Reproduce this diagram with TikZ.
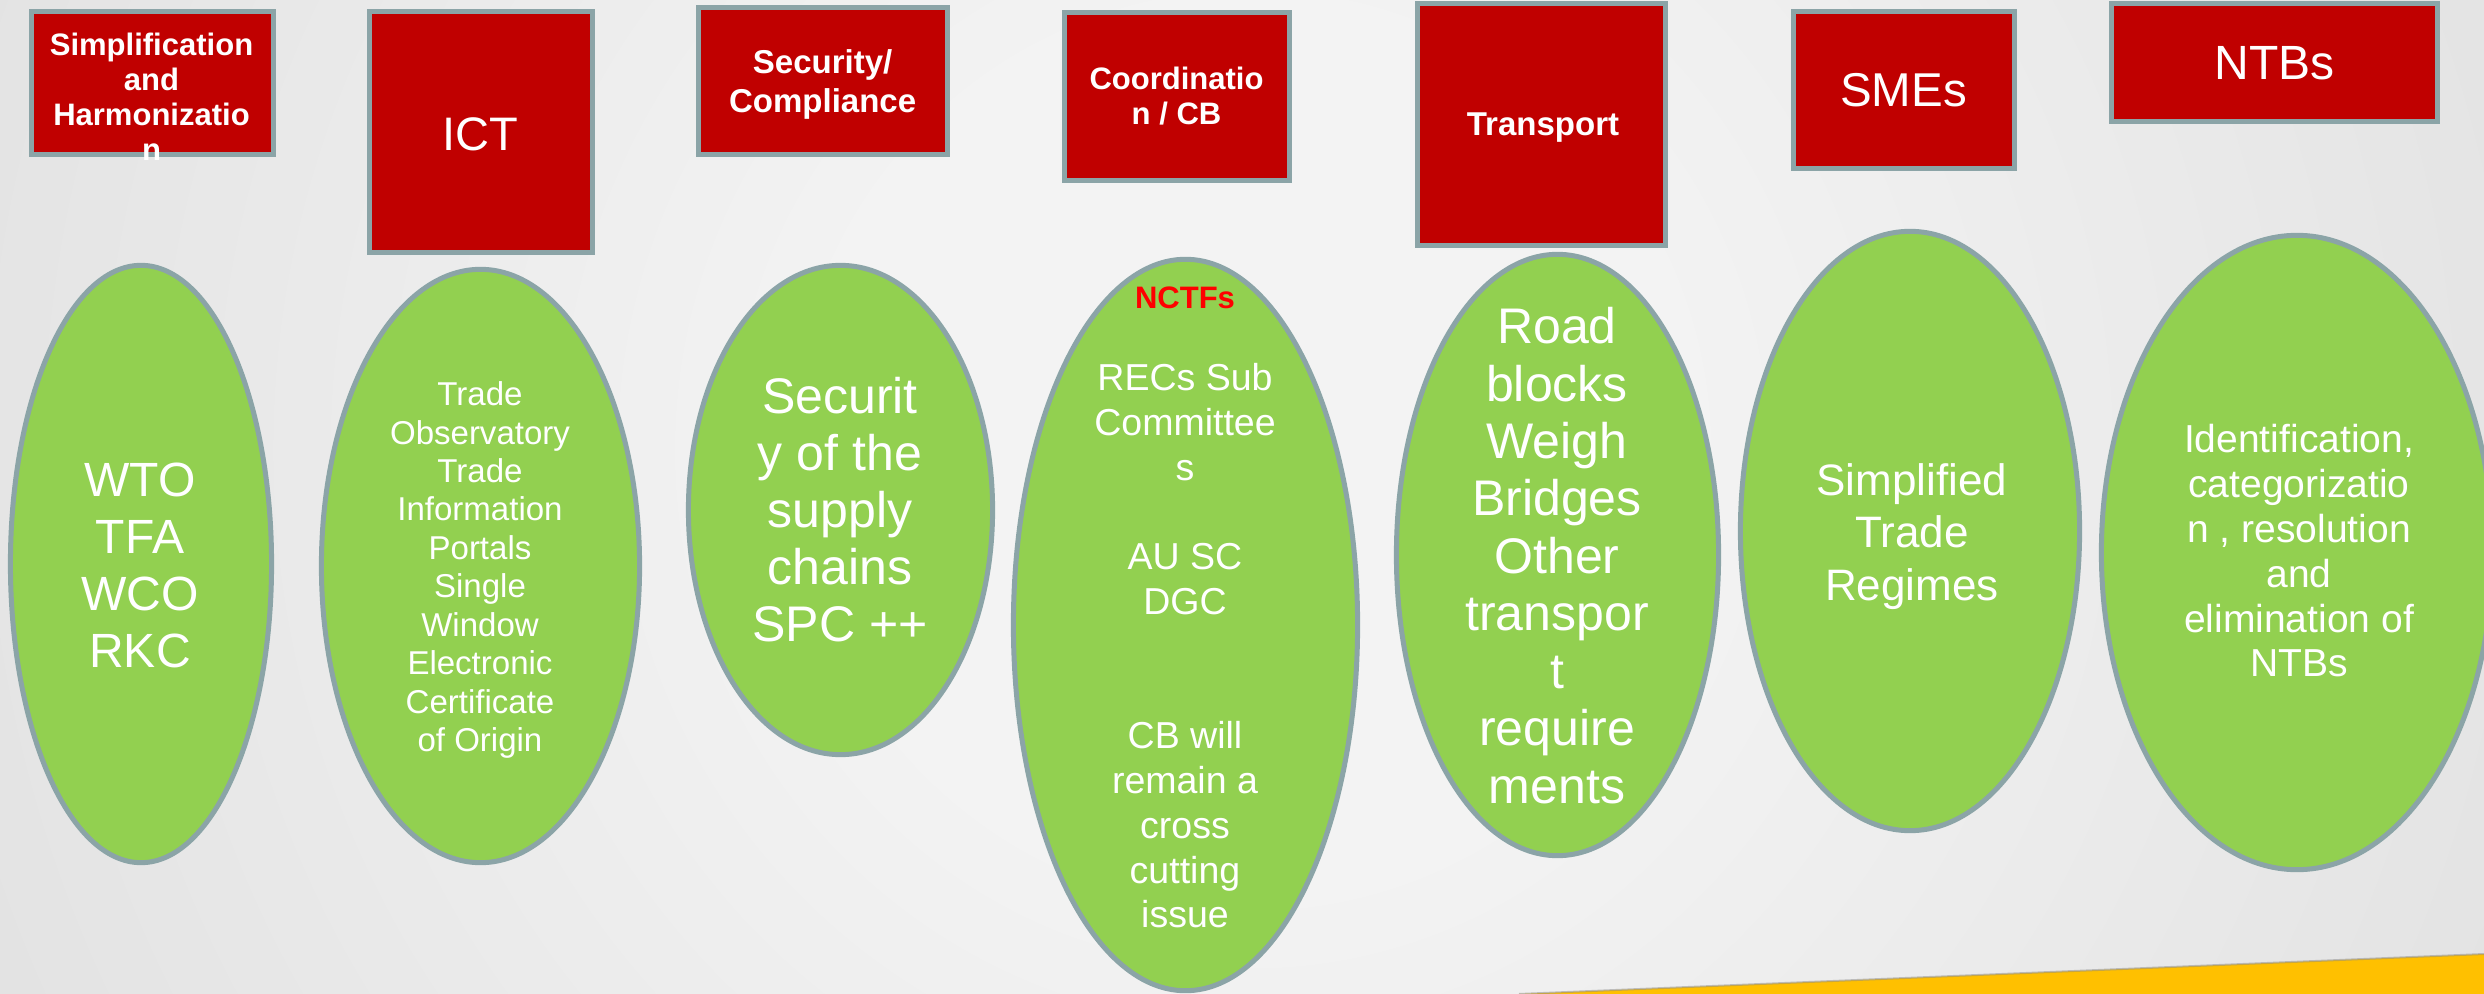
\documentclass[tikz,border=0pt]{standalone}
\usepackage{fontspec}
\setmainfont{Liberation Sans}
\usetikzlibrary{shapes.geometric}
\definecolor{boxred}{HTML}{C00000}
\definecolor{ovalgreen}{HTML}{92D050}
\definecolor{rimgrey}{HTML}{8BA4A7}
\definecolor{stripe}{HTML}{FFC000}
\definecolor{alertred}{HTML}{FF0000}
\definecolor{bgA}{HTML}{F3F3F3}
\definecolor{bgB}{HTML}{E3E3E3}
\definecolor{bgC}{HTML}{CBCBCB}
\pgfdeclareradialshading{slidebg}{\pgfpoint{0bp}{0bp}}{color(0bp)=(bgA); color(8bp)=(bgA); color(25bp)=(bgB); color(50bp)=(bgC)}
\newcommand\fsz[2]{\fontsize{#1}{#2}\selectfont}
\tikzset{
  topic/.style={draw=rimgrey, fill=boxred, line width=0.05cm, inner sep=0pt},
  oval/.style={ellipse, draw=rimgrey, fill=ovalgreen, line width=0.05cm, inner sep=0pt},
  lbl/.style={text=white, align=center, inner sep=0pt}
}
\begin{document}
\begin{tikzpicture}[x=0.01cm, y=-0.01cm]
  \useasboundingbox (0,0) rectangle (2484,994);
  \begin{scope}
    \clip (0,0) rectangle (2484,994);
    \shade[shading=slidebg] (-100,-900) rectangle (2600,1800);
  \end{scope}
  \fill[stripe] (1519,994) -- (2484,954) -- (2484,994) -- cycle;
  \draw[black!45, opacity=0.5, line width=0.02cm] (1519,994) -- (2484,954);

  \node[topic, minimum width=2.42cm, minimum height=1.43cm] (simp) at (152.5,83) {};
  \node[topic, minimum width=2.23cm, minimum height=2.41cm] (ict) at (481,132) {};
  \node[topic, minimum width=2.49cm, minimum height=1.47cm] (sec) at (823,81) {};
  \node[topic, minimum width=2.25cm, minimum height=1.68cm] (coord) at (1177,96.5) {};
  \node[topic, minimum width=2.48cm, minimum height=2.42cm] (trans) at (1541.5,124.5) {};
  \node[topic, minimum width=2.21cm, minimum height=1.57cm] (smes) at (1904,90) {};
  \node[topic, minimum width=3.26cm, minimum height=1.18cm] (ntbs) at (2274.5,62.5) {};

  \node[lbl, font=\bfseries\fsz{8.82}{9.96}] (simptext) at (151.5,96.4) {Simplification\\and\\Harmonizatio\\n};
  \node[lbl, font=\fsz{13.37}{15}] (icttext) at (480.5,134.5) {ICT};
  \node[lbl, font=\bfseries\fsz{9.39}{11.1}] (sectext) at (822.6,84) {Security/\\Compliance};
  \node[lbl, font=\bfseries\fsz{8.82}{9.96}] (coordtext) at (1176.5,95.7) {Coordinatio\\n / CB};
  \node[lbl, font=\bfseries\fsz{9.39}{11.1}] (transtext) at (1543,127.7) {Transport};
  \node[lbl, font=\fsz{13.5}{15}] (smestext) at (1903.6,90.5) {SMEs};
  \node[lbl, font=\fsz{13.66}{15}] (ntbstext) at (2274.5,63.5) {NTBs};

  \node[oval, minimum width=2.61cm, minimum height=5.97cm] (wto) at (141,564) {};
  \node[oval, minimum width=3.18cm, minimum height=5.93cm] (portals) at (480.5,566) {};
  \node[oval, minimum width=3.04cm, minimum height=4.89cm] (supply) at (840.5,510) {};
  \node[oval, minimum width=3.44cm, minimum height=7.31cm] (nctf) at (1185.5,625) {};
  \node[oval, minimum width=3.22cm, minimum height=6.01cm] (road) at (1557.5,555) {};
  \node[oval, minimum width=3.39cm, minimum height=5.99cm] (regimes) at (1910,531) {};
  \node[oval, minimum width=3.91cm, minimum height=6.34cm] (elim) at (2297,552.5) {};

  \node[lbl, font=\fsz{13.66}{16.22}] (wtotext) at (140,565.3) {WTO\\TFA\\WCO\\RKC};
  \node[lbl, font=\fsz{9.39}{10.93}] (portalstext) at (480,570) {Trade\\Observatory\\Trade\\Information\\Portals\\Single\\Window\\Electronic\\Certificate\\of Origin};
  \node[lbl, font=\fsz{14.23}{16.22}] (supplytext) at (840,510) {Securit\\y of the\\supply\\chains\\SPC ++};
  \node[lbl, text=alertred, font=\bfseries\fsz{8.82}{10}] (nctfhead) at (1185,298) {NCTFs};
  \node[lbl, font=\fsz{10.67}{12.73}] (nctftext) at (1185,645.8) {RECs Sub\\Committee\\s\\[12.73pt]AU SC\\DGC\\[25.46pt]CB will\\remain a\\cross\\cutting\\issue};
  \node[lbl, font=\fsz{14.23}{16.33}] (roadtext) at (1557,555.5) {Road\\blocks\\Weigh\\Bridges\\Other\\transpor\\t\\require\\ments};
  \node[lbl, font=\fsz{12.52}{14.8}] (regimestext) at (1912,536.6) {Simplified\\Trade\\Regimes};
  \node[lbl, font=\fsz{11.1}{12.75}] (elimtext) at (2299,550.8) {Identification,\\categorizatio\\n , resolution\\and\\elimination of\\NTBs};
\end{tikzpicture}
\end{document}
